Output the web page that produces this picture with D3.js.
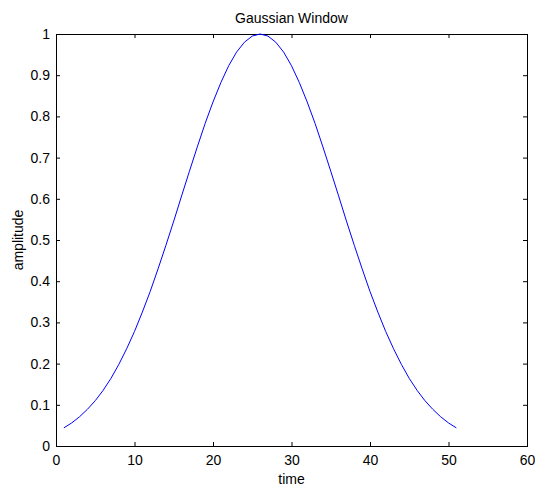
<!DOCTYPE html>
<html>
<head>
<meta charset="utf-8">
<script src="https://cdn.jsdelivr.net/npm/d3@7"></script>
<style>
  body { margin: 0; background: #fff; }
  svg text { font-family: "Liberation Sans", Arial, sans-serif; fill: #000; }
</style>
</head>
<body>
<svg id="chart"></svg>
<script>
const WIDTH = 535;
const HEIGHT = 487;

// samples, x = 1..51
const timeValues = d3.range(1, 52);
const amplitudeValues = [
  0.044, 0.056, 0.071, 0.089, 0.110, 0.135, 0.164, 0.198, 0.236, 0.278,
  0.325, 0.375, 0.430, 0.487, 0.546, 0.607, 0.667, 0.726, 0.783, 0.835,
  0.882, 0.923, 0.956, 0.980, 0.995, 1.000, 0.995, 0.980, 0.956, 0.923,
  0.882, 0.835, 0.783, 0.726, 0.667, 0.607, 0.546, 0.487, 0.430, 0.375,
  0.325, 0.278, 0.236, 0.198, 0.164, 0.135, 0.110, 0.089, 0.071, 0.056,
  0.044
];
const xTicks = [0, 10, 20, 30, 40, 50, 60];
const yTicks = [0, 0.1, 0.2, 0.3, 0.4, 0.5, 0.6, 0.7, 0.8, 0.9, 1];
const titleText = "Gaussian Window";
const xLabel = "time";
const yLabel = "amplitude";

const margin = { top: 34, right: 8, bottom: 41, left: 56 };
const plotW = WIDTH - margin.left - margin.right;
const plotH = HEIGHT - margin.top - margin.bottom;

const svg = d3.select("#chart").attr("width", WIDTH).attr("height", HEIGHT);
const g = svg.append("g").attr("transform", `translate(${margin.left},${margin.top})`);

const x = d3.scaleLinear().domain([0, 60]).range([0, plotW]);
const y = d3.scaleLinear().domain([0, 1]).range([plotH, 0]);

const fmt = (d) => (d === 0 || d === 1 ? String(d) : d.toFixed(1));

/* axes with inward ticks on all four sides */
function styleAxis(sel) {
  sel.select(".domain").remove();
  sel.selectAll(".tick line").attr("stroke", "#000");
  sel.selectAll("text").style("font-size", "14px");
}

g.append("g")
  .attr("transform", `translate(0,${plotH})`)
  .call(d3.axisBottom(x).tickValues(xTicks).tickSize(-4).tickPadding(9))
  .call(styleAxis);

g.append("g")
  .call(d3.axisTop(x).tickValues(xTicks).tickSize(-4).tickFormat(""))
  .call(styleAxis);

g.append("g")
  .call(d3.axisLeft(y).tickValues(yTicks).tickSize(-4).tickPadding(6).tickFormat(fmt))
  .call(styleAxis);

g.append("g")
  .attr("transform", `translate(${plotW},0)`)
  .call(d3.axisRight(y).tickValues(yTicks).tickSize(-4).tickFormat(""))
  .call(styleAxis);

g.append("rect")
  .attr("x", 0.5).attr("y", 0.5)
  .attr("width", plotW).attr("height", plotH)
  .attr("fill", "none").attr("stroke", "#000").attr("stroke-width", 1);

/* the curve */
const line = d3.line()
  .x((d, i) => x(timeValues[i]))
  .y((d) => y(d));

g.append("path")
  .datum(amplitudeValues)
  .attr("fill", "none")
  .attr("stroke", "#0000ff")
  .attr("stroke-width", 1)
  .attr("d", line);

/* labels */
svg.append("text")
  .attr("x", margin.left + plotW / 2)
  .attr("y", 23)
  .attr("text-anchor", "middle")
  .style("font-size", "14px")
  .text(titleText);

svg.append("text")
  .attr("x", margin.left + plotW / 2)
  .attr("y", 484)
  .attr("text-anchor", "middle")
  .style("font-size", "14px")
  .text(xLabel);

svg.append("text")
  .attr("transform", `translate(23,${margin.top + plotH / 2}) rotate(-90)`)
  .attr("text-anchor", "middle")
  .style("font-size", "14px")
  .text(yLabel);
</script>
</body>
</html>
